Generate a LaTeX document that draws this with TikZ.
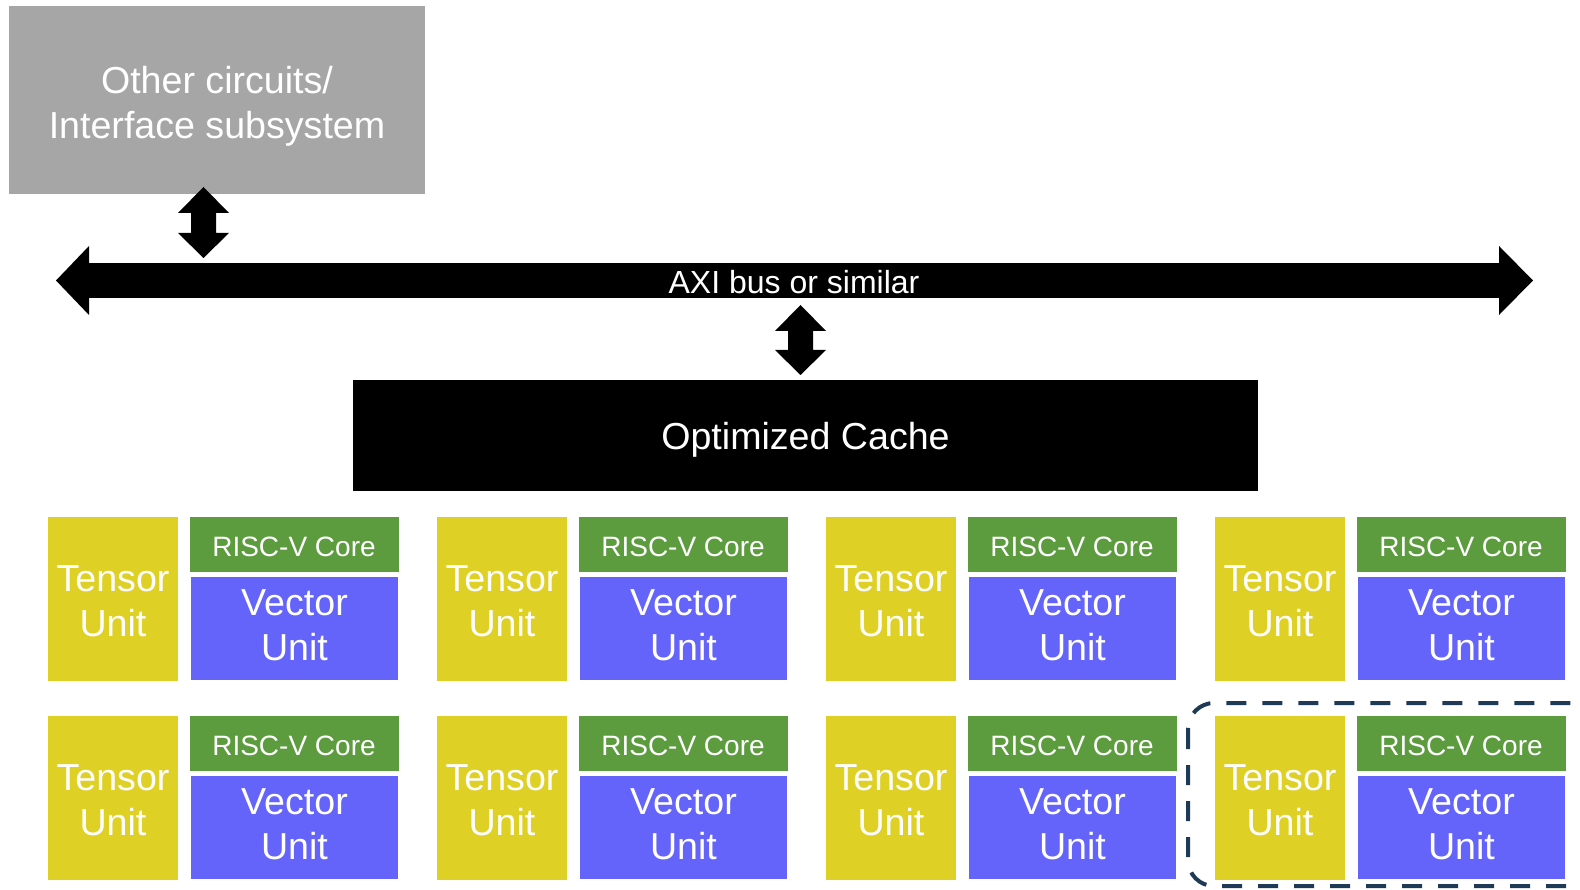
\documentclass[tikz,border=0pt]{standalone}
\usepackage{fontspec}
\setmainfont{Liberation Sans}
\usetikzlibrary{calc}
\definecolor{boxgray}{HTML}{A6A6A6}
\definecolor{tyellow}{HTML}{DFD026}
\definecolor{rgreen}{HTML}{5C9C3F}
\definecolor{vblue}{HTML}{6464FB}
\definecolor{navy}{HTML}{1F3A57}
\tikzset{
  blk/.style={inner sep=0pt, outer sep=0pt},
  txt/.style={inner sep=0pt, outer sep=0pt, text=white, align=center},
  big/.style={font=\fontsize{37.6}{45}\selectfont},
  mid/.style={font=\fontsize{32}{38}\selectfont},
  small/.style={font=\fontsize{28}{33}\selectfont},
  tensor/.style={blk, fill=tyellow, minimum width=130pt, minimum height=163.5pt},
  risc/.style={blk, fill=rgreen, minimum width=209pt, minimum height=55pt},
  vec/.style={blk, fill=vblue, minimum width=207pt, minimum height=103pt},
  vdbl/.style={to path={let \p1=(\tikztostart), \p2=(\tikztotarget) in
    -- (\x1+25.5pt,\y1-26pt) -- (\x1+12.5pt,\y1-26pt) -- (\x1+12.5pt,\y2+25pt)
    -- (\x1+25.5pt,\y2+25pt) -- (\x2,\y2) -- (\x1-25.5pt,\y2+25pt)
    -- (\x1-12.5pt,\y2+25pt) -- (\x1-12.5pt,\y1-26pt) -- (\x1-25.5pt,\y1-26pt) -- cycle}},
  dashbox/.style={draw=navy, line width=4pt, dash pattern=on 20pt off 16pt, rounded corners=26pt}
}
\begin{document}
\begin{tikzpicture}[x=1pt, y=-1pt]
\useasboundingbox (0,0) rectangle (1580,890);
% top gray block
\node[blk, fill=boxgray, minimum width=416pt, minimum height=188pt, anchor=north west]
  (gray) at (9,6) {};
\node[txt, big] (grayt) at ([yshift=-6pt]gray.center) {Other circuits/\\Interface subsystem};
% bus
\node[blk, fill=black, minimum width=1410pt, minimum height=35pt] (bus) at (794,280.5) {};
\node[txt, mid] (bust) at ([yshift=-2pt]bus.center) {AXI bus or similar};
\fill (bus.west) ++(0,-34.5) -- ++(0,69) -- ([xshift=-33pt]bus.west) -- cycle;
\fill (bus.east) ++(0,-34.5) -- ++(0,69) -- ([xshift=34pt]bus.east) -- cycle;
% cache
\node[blk, fill=black, minimum width=905pt, minimum height=111pt, anchor=north west]
  (cache) at (353,380) {};
\node[txt, big] (cachet) at ([yshift=-4pt]cache.center) {Optimized Cache};
% connectors
\path (gray.south) ++(-13.5,-7) coordinate (a1t);
\path (a1t |- bus.north) ++(0,-5) coordinate (a1b);
\fill (a1t) to[vdbl] (a1b);
\path (bus.south) ++(6.5,7) coordinate (a2t);
\path (a2t |- cache.north) ++(0,-5) coordinate (a2b);
\fill (a2t) to[vdbl] (a2b);
% tiles
\foreach \c in {0,...,3} {
  \foreach \r in {0,1} {
    \pgfmathsetmacro\X{48+389*\c}
    \pgfmathsetmacro\Y{517+199*\r}
    \node[tensor, anchor=north west] (t\c\r) at (\X,\Y) {};
    \node[txt, big] (tt\c\r) at ([yshift=-2pt]t\c\r.center) {Tensor\\Unit};
    \node[risc, anchor=north west] (r\c\r) at (\X+141.5,\Y) {};
    \node[txt, small] (rt\c\r) at ([yshift=-2pt]r\c\r.center) {RISC-V Core};
    \node[vec, anchor=north west] (v\c\r) at (\X+143,\Y+60) {};
    \node[txt, big] (vt\c\r) at ([yshift=3pt]v\c\r.center) {Vector\\Unit};
  }
}
% highlighted tile
\begin{scope}
  \clip (0,0) rectangle (1580,890);
  \draw[dashbox] (1188,703) rectangle (1640,886);
\end{scope}
\end{tikzpicture}
\end{document}
